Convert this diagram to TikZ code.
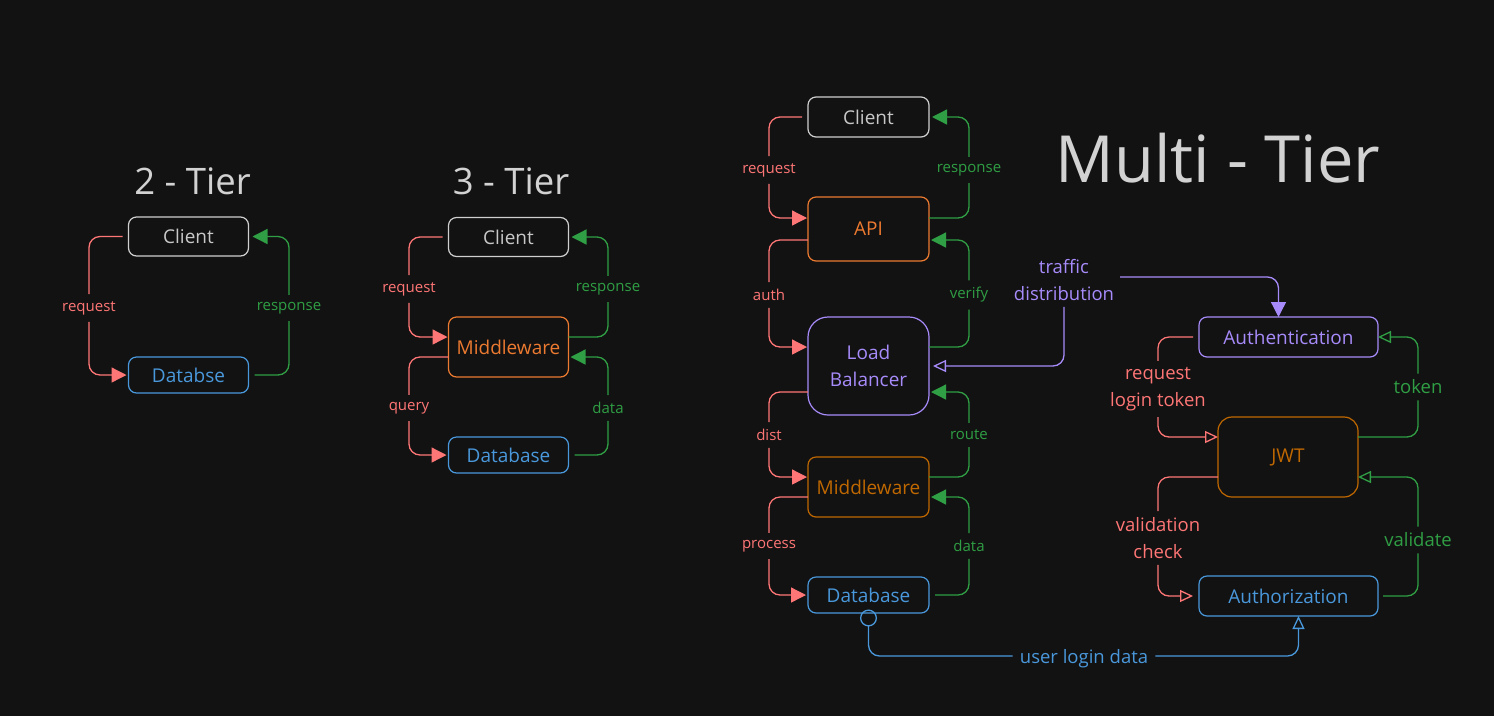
\documentclass[tikz,border=0pt]{standalone}
\usepackage{fontspec}
\setmainfont{Open Sans}
\usetikzlibrary{arrows.meta}
\definecolor{bgc}{HTML}{121212}
\definecolor{gry}{HTML}{CFCFCF}
\definecolor{grt}{HTML}{C8C8C8}
\definecolor{ttl}{HTML}{D2D2D2}
\definecolor{rd}{HTML}{FF7676}
\definecolor{gn}{HTML}{2F9E44}
\definecolor{bl}{HTML}{4A98DC}
\definecolor{org}{HTML}{EC7A30}
\definecolor{dorg}{HTML}{C06800}
\definecolor{pur}{HTML}{A78BFA}
\begin{document}
\begin{tikzpicture}[x=1pt,y=-1pt,
  box/.style={draw, rounded corners=8pt, line width=1.2pt, inner sep=0pt, outer sep=0pt,
    font=\fontsize{19}{27}\selectfont, align=center},
  ttlstyle/.style={text=ttl, inner sep=0pt},
  sl/.style={font=\fontsize{15}{18}\selectfont, inner sep=7pt, yshift=-2pt},
  bll/.style={font=\fontsize{18.5}{27}\selectfont, inner sep=6pt, align=center, yshift=-3pt},
  lk/.style={line width=1.3pt, rounded corners=11pt},
  fa/.style={-{Triangle[length=15pt,width=15pt]}},
  oa/.style={-{Triangle[open,length=13pt,width=12pt]}}
]
\fill[bgc] (0,0) rectangle (1494,716);

% ---------- 2 - Tier ----------
\node[ttlstyle, font=\fontsize{36.5}{40}\selectfont] (t2) at (192.5,181) {2 - Tier};
\node[box, draw=gry, text=grt, minimum width=120pt, minimum height=39pt] (c2) at (188.5,236.5) {Client};
\node[box, draw=bl, text=bl, minimum width=120pt, minimum height=36pt] (d2) at (188.5,375) {Databse};
\node[sl, text=rd] (r2) at (89,306) {request};
\node[sl, text=gn] (s2) at (289,306) {response};
\draw[lk, rd] ([xshift=-6pt]c2.west) -| (r2);
\draw[lk, rd, fa] (r2) |- ([xshift=-2pt]d2.west);
\draw[lk, gn] ([xshift=6pt]d2.east) -| (s2);
\draw[lk, gn, fa] (s2) |- ([xshift=4pt]c2.east);

% ---------- 3 - Tier ----------
\node[ttlstyle, font=\fontsize{36.5}{40}\selectfont] (t3) at (511,181) {3 - Tier};
\node[box, draw=gry, text=grt, minimum width=120pt, minimum height=39pt] (c3) at (508.5,237) {Client};
\node[box, draw=org, text=org, minimum width=120pt, minimum height=60pt] (m3) at (508.5,347) {Middleware};
\node[box, draw=bl, text=bl, minimum width=120pt, minimum height=36pt] (db3) at (508.5,455) {Database};
\node[sl, text=rd] (q3r) at (409,287) {request};
\node[sl, text=gn] (q3s) at (608,287) {response};
\node[sl, text=rd] (q3q) at (409,406) {query};
\node[sl, text=gn] (q3d) at (608,406) {data};
\draw[lk, rd] ([xshift=-6pt]c3.west) -| (q3r);
\draw[lk, rd, fa] (q3r) |- ([yshift=10pt,xshift=-1pt]m3.west);
\draw[lk, gn] ([yshift=10pt]m3.east) -| (q3s);
\draw[lk, gn, fa] (q3s) |- ([xshift=3pt]c3.east);
\draw[lk, rd] ([yshift=-10pt]m3.west) -| (q3q);
\draw[lk, rd, fa] (q3q) |- ([xshift=-2pt]db3.west);
\draw[lk, gn] ([xshift=6pt]db3.east) -| (q3d);
\draw[lk, gn, fa] (q3d) |- ([yshift=-10pt,xshift=2pt]m3.east);

% ---------- Multi - Tier ----------
\node[ttlstyle, font=\fontsize{65}{70}\selectfont] (tm) at (1218,158) {Multi - Tier};
\node[box, draw=gry, text=grt, minimum width=121pt, minimum height=40pt] (cM) at (868.5,117) {Client};
\node[box, draw=org, text=org, minimum width=121pt, minimum height=64pt] (api) at (868.5,229) {API};
\node[box, draw=pur, text=pur, minimum width=121pt, minimum height=98pt, rounded corners=20pt] (lb) at (868.5,366) {Load\\Balancer};
\node[box, draw=dorg, text=dorg, minimum width=121pt, minimum height=60pt] (mwM) at (868.5,487) {Middleware};
\node[box, draw=bl, text=bl, minimum width=121pt, minimum height=36pt] (dbM) at (868.5,595) {Database};

\node[sl, text=rd] (mreq) at (769,168) {request};
\node[sl, text=gn] (mresp) at (969,168) {response};
\node[sl, text=rd] (mauth) at (769,293) {auth};
\node[sl, text=gn] (mver) at (969,293) {verify};
\node[sl, text=rd] (mdist) at (769,433) {dist};
\node[sl, text=gn] (mroute) at (969,433) {route};
\node[sl, text=rd] (mproc) at (769,544) {process};
\node[sl, text=gn] (mdata) at (969,544) {data};

\draw[lk, rd] ([xshift=-6pt]cM.west) -| (mreq);
\draw[lk, rd, fa] (mreq) |- ([yshift=11pt,xshift=-1pt]api.west);
\draw[lk, gn] ([yshift=11pt]api.east) -| (mresp);
\draw[lk, gn, fa] (mresp) |- ([xshift=3pt]cM.east);
\draw[lk, rd] ([yshift=-11pt]api.west) -| (mauth);
\draw[lk, rd, fa] (mauth) |- ([yshift=19pt,xshift=-1pt]lb.west);
\draw[lk, gn] ([yshift=19pt]lb.east) -| (mver);
\draw[lk, gn, fa] (mver) |- ([yshift=-11pt,xshift=2pt]api.east);
\draw[lk, rd] ([yshift=-26pt]lb.west) -| (mdist);
\draw[lk, rd, fa] (mdist) |- ([yshift=10pt,xshift=-1pt]mwM.west);
\draw[lk, gn] ([yshift=10pt]mwM.east) -| (mroute);
\draw[lk, gn, fa] (mroute) |- ([yshift=-26pt,xshift=2pt]lb.east);
\draw[lk, rd] ([yshift=-10pt]mwM.west) -| (mproc);
\draw[lk, rd, fa] (mproc) |- ([xshift=-2pt]dbM.west);
\draw[lk, gn] ([xshift=6pt]dbM.east) -| (mdata);
\draw[lk, gn, fa] (mdata) |- ([yshift=-10pt,xshift=2pt]mwM.east);

% ---------- Auth side ----------
\node[box, draw=pur, text=pur, minimum width=179pt, minimum height=40pt] (au) at (1288.5,337) {Authentication};
\node[box, draw=dorg, text=dorg, minimum width=140pt, minimum height=80pt, rounded corners=14pt] (jwt) at (1288,457) {JWT};
\node[box, draw=bl, text=bl, minimum width=179pt, minimum height=40pt] (az) at (1288.5,596) {Authorization};

\node[bll, text=pur] (tr) at (1064,277) {traffic\\distribution};
\node[bll, text=rd] (rlt) at (1158,386) {request\\login token};
\node[bll, text=rd] (vc) at (1158,535) {validation\\check};
\node[bll, text=gn] (tok) at (1418,384) {token};
\node[bll, text=gn] (val) at (1418,537) {validate};
\node[bll, text=bl, inner sep=7pt] (uld) at (1084,656) {user login data};

\draw[lk, pur, oa] (tr) |- ([xshift=4pt]lb.east);
\draw[lk, pur, fa] ([yshift=3pt]tr.east) -| ([xshift=-10pt]au.north);

\draw[lk, rd] ([xshift=-6pt]au.west) -| (rlt);
\draw[lk, rd, oa] (rlt) |- ([yshift=20pt]jwt.west);
\draw[lk, rd] ([yshift=-20pt]jwt.west) -| (vc);
\draw[lk, rd, oa] (vc) |- ([xshift=-6pt]az.west);
\draw[lk, gn] ([yshift=20pt]jwt.east) -| (tok);
\draw[lk, gn, oa] (tok) |- (au.east);
\draw[lk, gn] ([xshift=5pt]az.east) -| (val);
\draw[lk, gn, oa] (val) |- ([yshift=-20pt]jwt.east);

\draw[lk, bl, {Circle[open,length=17pt,width=17pt]}-] ([yshift=3.5pt]dbM.south) |- ([yshift=3pt]uld.west);
\draw[lk, bl, oa] ([yshift=3pt]uld.east) -| ([xshift=10pt]az.south);
\end{tikzpicture}
\end{document}
